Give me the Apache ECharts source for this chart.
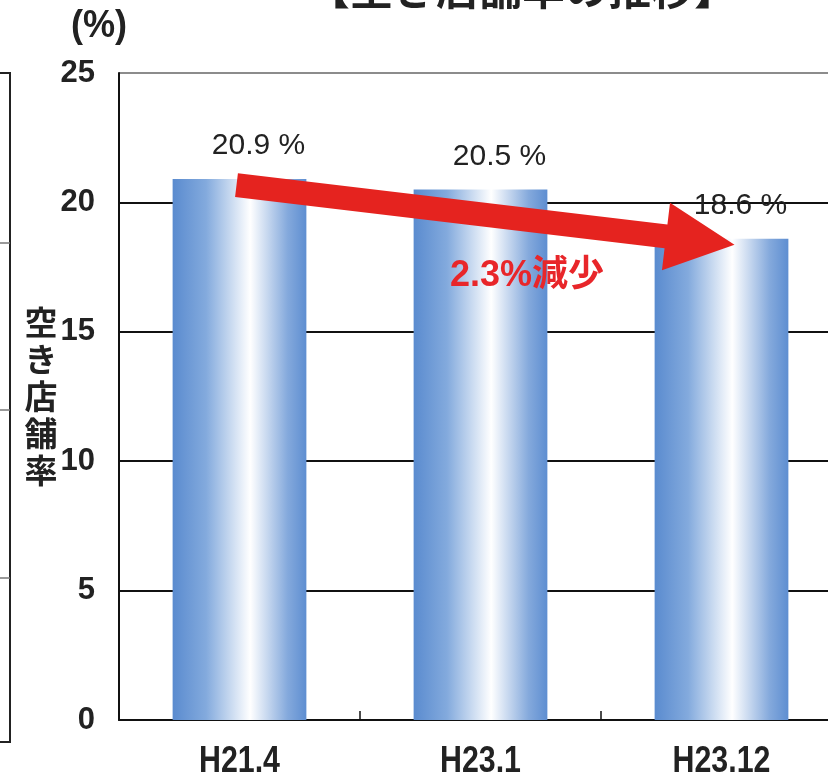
<!DOCTYPE html>
<html>
<head>
<meta charset="utf-8">
<script src="https://cdn.jsdelivr.net/npm/echarts@6/dist/echarts.min.js"></script>
<style>
  html, body { margin: 0; padding: 0; background: #ffffff; }
  #chart { width: 828px; height: 779px; }
</style>
</head>
<body>
<div id="chart"></div>
<script>
// Vacant-store rate by survey date
const categories = ['H21.4', 'H23.1', 'H23.12'];
const vacancyRate = [20.9, 20.5, 18.6];
const yTicks = [0, 5, 10, 15, 20, 25];

const sans = "'Liberation Sans', Arial, 'Noto Sans CJK JP', sans-serif";
const cjk = "'Noto Sans CJK JP', sans-serif";

const chart = echarts.init(document.getElementById('chart'), null, { renderer: 'canvas' });

const barFill = new echarts.graphic.LinearGradient(0, 0, 1, 0, [
  { offset: 0, color: '#5a8bcf' },
  { offset: 0.25, color: '#83aadd' },
  { offset: 0.58, color: '#ffffff' },
  { offset: 0.86, color: '#84a9dc' },
  { offset: 1, color: '#5e8ed1' }
]);

chart.setOption({
  animation: false,
  backgroundColor: '#ffffff',
  // the plot runs slightly past the right edge of the canvas
  grid: { left: 119, top: 73, bottom: 59, width: 723, containLabel: false, outerBoundsMode: 'none' },
  xAxis: {
    type: 'category',
    data: categories,
    axisLine: { lineStyle: { color: '#111', width: 2 } },
    axisTick: { show: true, inside: true, length: 9, lineStyle: { color: '#111', width: 1.5 } },
    // category names are drawn below as condensed text
    axisLabel: { show: false },
    splitLine: { show: false }
  },
  yAxis: {
    type: 'value',
    min: yTicks[0],
    max: yTicks[yTicks.length - 1],
    interval: yTicks[1] - yTicks[0],
    axisLine: { show: true, lineStyle: { color: '#111', width: 2 } },
    axisTick: { show: false },
    axisLabel: {
      margin: 24,
      fontFamily: sans,
      fontWeight: 'bold',
      fontSize: 31,
      color: '#222'
    },
    splitLine: {
      show: true,
      lineStyle: {
        color: ['#111', '#111', '#111', '#111', '#111', '#8c8c8c'],
        width: 2
      }
    }
  },
  series: [{
    type: 'bar',
    data: vacancyRate,
    barWidth: '55.5%',
    itemStyle: { color: barFill },
    label: {
      show: true,
      position: 'top',
      distance: 18,
      offset: [19, 0],
      formatter: p => p.value.toFixed(1) + ' %',
      fontFamily: sans,
      fontSize: 30,
      color: '#222'
    }
  }]
});

// Red trend arrow from the first bar top to the last bar top
function arrowPoints() {
  const a = chart.convertToPixel({ seriesIndex: 0 }, [0, vacancyRate[0]]);
  const b = chart.convertToPixel({ seriesIndex: 0 }, [categories.length - 1, vacancyRate[vacancyRate.length - 1]]);
  const p0 = [a[0] - 3, a[1] + 6];
  const p1 = [b[0] + 13, b[1] + 6];
  const dx = p1[0] - p0[0], dy = p1[1] - p0[1];
  const len = Math.sqrt(dx * dx + dy * dy);
  const d = [dx / len, dy / len];
  const n = [-d[1], d[0]];
  const shaft = 12, head = 34, headLen = 69;
  const base = [p1[0] - d[0] * headLen, p1[1] - d[1] * headLen];
  const at = (p, k) => [p[0] + n[0] * k, p[1] + n[1] * k];
  return [at(p0, -shaft), at(base, -shaft), at(base, -head), p1, at(base, head), at(base, shaft), at(p0, shaft)];
}

// condensed category names under each bar
const categoryTexts = categories.map((c, i) => {
  const pt = chart.convertToPixel({ xAxisIndex: 0, yAxisIndex: 0 }, [i, 0]);
  return {
    type: 'text', x: pt[0], y: pt[1] + 42, scaleX: 0.82,
    style: { text: c, fontFamily: sans, fontWeight: 'bold', fontSize: 37,
             fill: '#222', textAlign: 'center', textVerticalAlign: 'middle' }
  };
});

const drop = (vacancyRate[0] - vacancyRate[vacancyRate.length - 1]).toFixed(1);

chart.setOption({
  graphic: [
    // fragment of the neighbouring panel frame on the left
    { type: 'polyline', shape: { points: [[0, 73], [10, 73], [10, 742], [0, 742]] },
      style: { stroke: '#222', lineWidth: 2, fill: null } },
    { type: 'line', shape: { x1: 0, y1: 243, x2: 10, y2: 243 }, style: { stroke: '#777', lineWidth: 1.5 } },
    { type: 'line', shape: { x1: 0, y1: 410, x2: 10, y2: 410 }, style: { stroke: '#777', lineWidth: 1.5 } },
    { type: 'line', shape: { x1: 0, y1: 578, x2: 10, y2: 578 }, style: { stroke: '#777', lineWidth: 1.5 } },
    // chart title (top edge)
    { type: 'text', x: 522, y: 10,
      style: { text: '【空き店舗率の推移】', fontFamily: cjk, fontWeight: 'bold', fontSize: 43,
               fill: '#222', textAlign: 'center', textVerticalAlign: 'bottom' } },
    // unit
    { type: 'text', x: 99, y: 27, scaleX: 0.95,
      style: { text: '(%)', fontFamily: sans, fontWeight: 'bold', fontSize: 38,
               fill: '#222', textAlign: 'center', textVerticalAlign: 'middle' } },
    // vertical axis title
    { type: 'text', x: 41, y: 304,
      style: { text: '空\nき\n店\n舗\n率', fontFamily: cjk, fontWeight: 'bold', fontSize: 33,
               lineHeight: 37, fill: '#222', textAlign: 'center', textVerticalAlign: 'top' } },
    ...categoryTexts,
    // trend arrow
    { type: 'polygon', z: 10, shape: { points: arrowPoints() }, style: { fill: '#e5231f', stroke: null } },
    { type: 'text', z: 11, x: 527, y: 276,
      style: { text: drop + '%減少', fontFamily: sans, fontWeight: 'bold', fontSize: 36,
               fill: '#e8262a', textAlign: 'center', textVerticalAlign: 'middle' } }
  ]
});
</script>
</body>
</html>
